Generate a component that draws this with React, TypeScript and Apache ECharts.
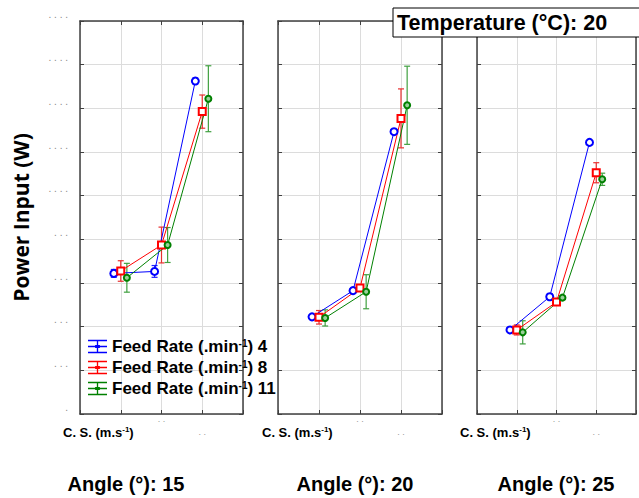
import React, { useEffect, useRef } from 'react';
import * as echarts from 'echarts';

// Cutting-speed levels (category positions on the x axis)
const speedLevels = [1, 2, 3];
const feedRates = ['4', '8', '11'];
const angleLabels = ['Angle (°): 15', 'Angle (°): 20', 'Angle (°): 25'];
const temperatureLabel = 'Temperature (°C): 20';

// Power input (W), angle 15°
const p15_f4 = [644, 653, 1525];
const p15_f8 = [655, 774, 1385];
const p15_f11 = [624, 774, 1444];
const e15_f4 = [18, 27, 14];
const e15_f8 = [47, 82, 76];
const e15_f11 = [66, 80, 151];

// angle 20°
const p20_f4 = [445, 565, 1293];
const p20_f8 = [443, 577, 1354];
const p20_f11 = [440, 560, 1414];
const e20_f4 = [10, 12, 10];
const e20_f8 = [31, 14, 135];
const e20_f11 = [37, 78, 179];

// angle 25°
const p25_f4 = [385, 537, 1244];
const p25_f8 = [385, 513, 1105];
const p25_f11 = [374, 533, 1075];
const e25_f4 = [6, 14, 8];
const e25_f8 = [23, 10, 46];
const e25_f11 = [53, 8, 28];

const panelValues = [
  [p15_f4, p15_f8, p15_f11],
  [p20_f4, p20_f8, p20_f11],
  [p25_f4, p25_f8, p25_f11],
];
const panelErrors = [
  [e15_f4, e15_f8, e15_f11],
  [e20_f4, e20_f8, e20_f11],
  [e25_f4, e25_f8, e25_f11],
];

const lineColors = ['#0000ff', '#ff0000', '#008000'];
const barColors = ['#2020ff', '#e83030', '#40a040'];
const dodge = [-0.17, 0, 0.15];
const FONT = '"Liberation Sans", Arial, sans-serif';
const BORDER = '#404040';

const seriesName = (f: string) => `Feed Rate (.min-1) ${f}`;

const legendIcon =
  'path://M0,0H20V1.4H0Z M0,12.6H20V14H0Z M0,6.3H20V7.7H0Z M9.3,0H10.7V14H9.3Z M7.5,5.5H12.5V8.5H7.5Z';

function buildOption() {
  const gridLefts = [80, 278, 477];
  const gridWidths = [163, 164, 164];
  const grid = gridLefts.map((l, i) => ({ left: l, top: 21, width: gridWidths[i], height: 393, show: false }));

  const xAxis: any[] = [];
  const yAxis: any[] = [];
  gridLefts.forEach((_, gi) => {
    xAxis.push({
      type: 'value', gridIndex: gi, min: 0, max: 4, interval: 1, position: 'bottom',
      axisLine: { show: true, lineStyle: { color: BORDER, width: 1.5 } },
      axisTick: { show: true, inside: true, length: 4, lineStyle: { color: BORDER } },
      splitLine: { show: true, lineStyle: { color: '#dcdcdc', width: 1 } },
      axisLabel: {
        show: true, margin: -2, fontSize: 9, color: '#999', lineHeight: 13, fontFamily: FONT,
        formatter: (v: number) => (v === 2 ? '. .' : v === 3 ? '\n. .' : ''),
      },
    });
    xAxis.push({
      type: 'value', gridIndex: gi, min: 0, max: 4, interval: 1, position: 'top',
      axisLine: { show: true, onZero: false, lineStyle: { color: BORDER, width: 1.5 } },
      axisTick: { show: true, inside: true, length: 4, lineStyle: { color: BORDER } },
      splitLine: { show: false }, axisLabel: { show: false },
    });
    yAxis.push({
      type: 'value', gridIndex: gi, min: 0, max: 1800, interval: 200, position: 'left',
      axisLine: { show: true, onZero: false, lineStyle: { color: BORDER, width: 1.5 } },
      axisTick: { show: true, inside: true, length: 4, lineStyle: { color: BORDER } },
      splitLine: { show: true, lineStyle: { color: '#dcdcdc', width: 1 } },
      axisLabel: {
        show: gi === 0, margin: 12, fontSize: 10, color: '#888', fontFamily: FONT,
        verticalAlign: 'bottom', padding: [0, 0, 2, 0],
        formatter: (v: number) => String(v).split('').map(() => '.').join(' '),
      },
      name: gi === 0 ? 'Power Input (W)' : '',
      nameLocation: 'middle', nameGap: 49,
      nameTextStyle: { fontSize: 21, fontWeight: 'bold', fontFamily: '"Open Sans", sans-serif', color: '#000' },
    });
    yAxis.push({
      type: 'value', gridIndex: gi, min: 0, max: 1800, interval: 200, position: 'right',
      axisLine: { show: true, onZero: false, lineStyle: { color: BORDER, width: 1.5 } },
      axisTick: { show: true, inside: true, length: 4, lineStyle: { color: BORDER } },
      splitLine: { show: false }, axisLabel: { show: false },
    });
  });

  const series: any[] = [];
  panelValues.forEach((vals, gi) => {
    vals.forEach((arr, fi) => {
      const errs = panelErrors[gi][fi];
      series.push({
        type: 'custom', name: `err-${gi}-${fi}`, xAxisIndex: gi * 2, yAxisIndex: gi * 2,
        coordinateSystem: 'cartesian2d', z: 2, silent: true,
        encode: { x: 0, y: [1, 2] },
        data: speedLevels.map((s, k) => [s + dodge[fi], arr[k] - errs[k], arr[k] + errs[k]]),
        renderItem: (params: any, api: any) => {
          const x = api.value(0);
          const p1 = api.coord([x, api.value(1)]);
          const p2 = api.coord([x, api.value(2)]);
          const w = 3;
          const st = { stroke: barColors[fi], lineWidth: 1.2 };
          return {
            type: 'group',
            children: [
              { type: 'line', shape: { x1: p1[0], y1: p1[1], x2: p2[0], y2: p2[1] }, style: st },
              { type: 'line', shape: { x1: p1[0] - w, y1: p1[1], x2: p1[0] + w, y2: p1[1] }, style: st },
              { type: 'line', shape: { x1: p2[0] - w, y1: p2[1], x2: p2[0] + w, y2: p2[1] }, style: st },
            ],
          };
        },
      });
      const symbol = fi === 1 ? 'rect' : 'circle';
      const itemStyle =
        fi === 2
          ? { color: '#9ad09a', borderColor: lineColors[fi], borderWidth: 2 }
          : { color: '#ffffff', borderColor: lineColors[fi], borderWidth: 2 };
      series.push({
        type: 'line', name: seriesName(feedRates[fi]), xAxisIndex: gi * 2, yAxisIndex: gi * 2, z: 3,
        data: speedLevels.map((s, k) => [s + dodge[fi], arr[k]]),
        symbol, symbolSize: fi === 2 ? 6 : 7, showSymbol: true,
        lineStyle: { color: lineColors[fi], width: 1 },
        itemStyle,
      });
    });
  });

  const csText = (x: number) => ({
    type: 'text', x, y: 432,
    style: {
      text: '{n|C. S. (m.s}{s|-1}{n|)}',
      verticalAlign: 'middle', fill: '#000',
      rich: {
        n: { fontSize: 13, fontWeight: 'bold', fontFamily: FONT, fill: '#000' },
        s: { fontSize: 8, fontWeight: 'bold', fontFamily: FONT, fill: '#000', verticalAlign: 'top' },
      },
    },
  });

  const angleCenters = [126, 355, 556];

  return {
    animation: false,
    backgroundColor: '#ffffff',
    textStyle: { fontFamily: FONT },
    grid, xAxis, yAxis, series,
    legend: {
      orient: 'vertical', left: 83, top: 333, itemWidth: 19, itemHeight: 14, itemGap: 4,
      selectedMode: false,
      data: feedRates.map((f, i) => ({ name: seriesName(f), icon: legendIcon, itemStyle: { color: lineColors[i], borderWidth: 0 } })),
      formatter: (name: string) => {
        const parts = name.split('-1');
        return `{n|${parts[0]}}{s|-1}{n|${parts[1]}}`;
      },
      textStyle: {
        fontSize: 17, fontWeight: 'bold', color: '#000', fontFamily: FONT,
        rich: {
          n: { fontSize: 17, fontWeight: 'bold', color: '#000', fontFamily: FONT },
          s: { fontSize: 10, fontWeight: 'bold', color: '#000', fontFamily: FONT, verticalAlign: 'top' },
        },
      },
    },
    graphic: [
      { type: 'rect', z: 100, shape: { x: 393, y: 8, width: 260, height: 29 }, style: { fill: '#fff', stroke: '#000', lineWidth: 1 } },
      { type: 'text', z: 101, x: 397, y: 23, style: { text: temperatureLabel, font: `bold 21.5px ${FONT}`, fill: '#000', verticalAlign: 'middle' } },
      csText(63), csText(262), csText(460),
      ...angleLabels.map((t, i) => ({
        type: 'text', x: angleCenters[i], y: 484,
        style: { text: t, font: `bold 20px ${FONT}`, fill: '#000', align: 'center', verticalAlign: 'middle' },
      })),
    ],
  };
}

export default function App() {
  const ref = useRef<HTMLDivElement>(null);
  useEffect(() => {
    if (!ref.current) return;
    const chart = echarts.init(ref.current, undefined, { renderer: 'svg' });
    chart.setOption(buildOption() as any);
    return () => chart.dispose();
  }, []);
  return <div ref={ref} style={{ position: 'fixed', left: 0, top: 0, width: 639, height: 498, background: '#fff' }} />;
}
